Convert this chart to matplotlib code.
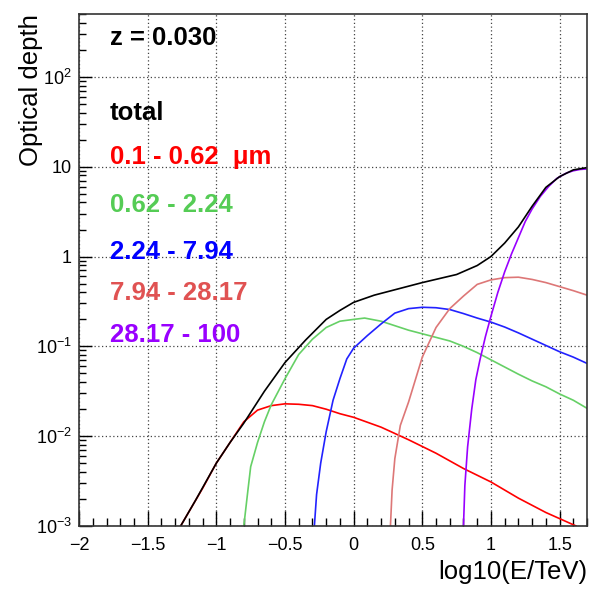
import numpy as np
import matplotlib
matplotlib.use('Agg')
import matplotlib.pyplot as plt
from matplotlib.ticker import FixedLocator, MultipleLocator, LogLocator, NullFormatter

plt.rcParams['font.family'] = ['Liberation Sans', 'DejaVu Sans']
plt.rcParams['mathtext.fontset'] = 'custom'
plt.rcParams['mathtext.rm'] = 'Liberation Sans'
plt.rcParams['mathtext.it'] = 'Liberation Sans:italic'
plt.rcParams['mathtext.bf'] = 'Liberation Sans:bold'

# curves: x = log10(E/TeV), y = log10(optical depth)
total_x = [-1.26, -1.15, -1.0, -0.9, -0.8, -0.65, -0.5, -0.35, -0.2, -0.1, 0.0, 0.15,
           0.3, 0.5, 0.75, 0.9, 1.0, 1.1, 1.2, 1.3, 1.4, 1.5, 1.6, 1.7]
total_y = [-3.0, -2.71, -2.30, -2.07, -1.855, -1.50, -1.18, -0.93, -0.70, -0.60, -0.51, -0.43,
           -0.37, -0.29, -0.20, -0.10, 0.0, 0.15, 0.33, 0.56, 0.77, 0.89, 0.965, 0.99]

b1_x = [-1.26, -1.1, -1.0, -0.9, -0.8, -0.7, -0.6, -0.5, -0.4, -0.3, -0.2, -0.1, 0.0,
        0.2, 0.4, 0.6, 0.8, 1.0, 1.2, 1.4, 1.62]
b1_y = [-3.0, -2.58, -2.30, -2.07, -1.84, -1.71, -1.66, -1.64, -1.645, -1.66, -1.70, -1.75, -1.79,
        -1.90, -2.04, -2.19, -2.36, -2.51, -2.69, -2.85, -3.0]

b2_x = [-0.80, -0.77, -0.75, -0.7, -0.65, -0.6, -0.5, -0.4, -0.3, -0.2, -0.1, 0.0, 0.08,
        0.2, 0.3, 0.4, 0.5, 0.6, 0.7, 0.8, 0.9, 1.0, 1.1, 1.2, 1.3, 1.4, 1.5, 1.6, 1.7]
b2_y = [-3.0, -2.6, -2.34, -2.07, -1.84, -1.65, -1.36, -1.09, -0.92, -0.79, -0.72, -0.70, -0.685,
        -0.72, -0.77, -0.82, -0.86, -0.90, -0.94, -1.0, -1.07, -1.15, -1.23, -1.31, -1.385,
        -1.45, -1.53, -1.60, -1.69]

b3_x = [-0.286, -0.27, -0.24, -0.2, -0.15, -0.1, -0.05, 0.0, 0.1, 0.2, 0.3, 0.4, 0.5, 0.6,
        0.7, 0.8, 0.9, 1.0, 1.1, 1.2, 1.3, 1.4, 1.5, 1.6, 1.7]
b3_y = [-3.0, -2.65, -2.30, -1.95, -1.60, -1.36, -1.14, -1.02, -0.88, -0.75, -0.63, -0.58, -0.565,
        -0.57, -0.59, -0.635, -0.685, -0.73, -0.785, -0.85, -0.92, -0.99, -1.06, -1.12, -1.19]

b4_x = [0.268, 0.28, 0.30, 0.34, 0.4, 0.45, 0.5, 0.6, 0.7, 0.8, 0.9, 1.0, 1.1, 1.2, 1.3,
        1.4, 1.5, 1.6, 1.7]
b4_y = [-3.0, -2.6, -2.25, -1.88, -1.62, -1.37, -1.12, -0.79, -0.58, -0.44, -0.31, -0.26, -0.235,
        -0.23, -0.255, -0.29, -0.335, -0.38, -0.43]

b5_x = [0.80, 0.81, 0.83, 0.86, 0.89, 0.92, 0.96, 1.0, 1.05, 1.1, 1.15, 1.2, 1.25, 1.3, 1.36,
        1.42, 1.48, 1.55, 1.6, 1.65, 1.7]
b5_y = [-3.0, -2.55, -2.12, -1.70, -1.37, -1.15, -0.89, -0.665, -0.40, -0.17, 0.03, 0.21, 0.39,
        0.53, 0.67, 0.78, 0.87, 0.93, 0.955, 0.97, 0.975]

labels = ['total', '0.1 - 0.62  \u03bcm', '0.62 - 2.24', '2.24 - 7.94', '7.94 - 28.17', '28.17 - 100']
text_colors = ['black', '#ff0000', '#55cc55', '#0000ff', '#e05252', '#9900ff']
line_colors = ['black', '#ff0000', '#66d066', '#2222ff', '#dd7777', '#9900ff']

xtick_vals = [-2, -1.5, -1, -0.5, 0, 0.5, 1, 1.5]
xtick_labels = ['\u22122', '\u22121.5', '\u22121', '\u22120.5', '0', '0.5', '1', '1.5']
ytick_vals = [1e-3, 1e-2, 1e-1, 1, 10, 100]
ytick_labels = ['$10^{-3}$', '$10^{-2}$', '$10^{-1}$', '1', '10', '$10^{2}$']

fig = plt.figure(figsize=(5.9, 5.89), dpi=100)
ax = fig.add_axes([0.134, 0.107, 0.861, 0.869])

curves = [(total_x, total_y), (b1_x, b1_y), (b2_x, b2_y), (b3_x, b3_y), (b4_x, b4_y), (b5_x, b5_y)]
# draw bands first, total on top
for i in [1, 2, 3, 4, 5, 0]:
    cx, cy = curves[i]
    ax.plot(cx, np.power(10.0, cy), color=line_colors[i], lw=1.2)

ax.set_yscale('log')
ax.set_xlim(-2, 1.7)
ax.set_ylim(1e-3, 500)

ax.yaxis.set_major_locator(FixedLocator(ytick_vals))
ax.set_yticklabels(ytick_labels)
ax.yaxis.set_minor_locator(LogLocator(base=10, subs=np.arange(2, 10)))
ax.yaxis.set_minor_formatter(NullFormatter())
ax.xaxis.set_major_locator(FixedLocator(xtick_vals))
ax.set_xticklabels(xtick_labels)
ax.xaxis.set_minor_locator(MultipleLocator(0.1))

ax.tick_params(axis='both', which='both', direction='in', top=False, right=False, labelsize=13,
               width=1.0)
ax.tick_params(axis='x', which='major', length=11, pad=8)
ax.tick_params(axis='x', which='minor', length=6)
ax.tick_params(axis='y', which='major', length=9, pad=5)
ax.tick_params(axis='y', which='minor', length=5)

ax.grid(True, which='major', color='#444444', linestyle=(0, (1, 2)), lw=0.9)
for s in ax.spines.values():
    s.set_linewidth(1.2)
    s.set_color('#333333')

ax.set_xlabel('log10(E/TeV)', fontsize=18.5, loc='right')
ax.xaxis.set_label_coords(1.0, -0.066)
ax.set_ylabel('Optical depth', fontsize=18.5, loc='top')
ax.yaxis.set_label_coords(-0.071, 1.0)

ax.text(0.061, 0.953, 'z = 0.030', transform=ax.transAxes, fontsize=18.5, fontweight='bold',
        va='center', ha='left')
label_y = [0.807, 0.721, 0.627, 0.535, 0.455, 0.373]
for lab, col, yy in zip(labels, text_colors, label_y):
    ax.text(0.061, yy, lab, transform=ax.transAxes, fontsize=18.5, fontweight='bold',
            color=col, va='center', ha='left')

fig.savefig('out.png', dpi=100)
